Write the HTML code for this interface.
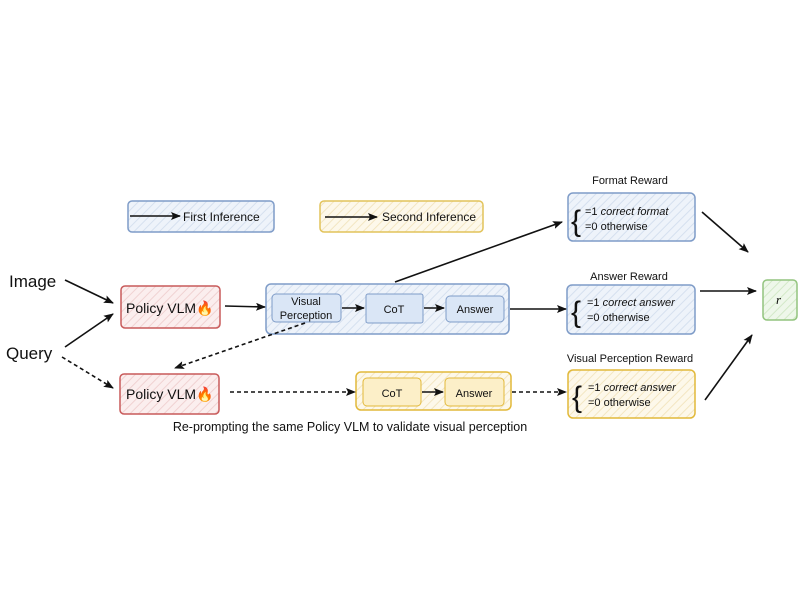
<!DOCTYPE html>
<html><head><meta charset="utf-8"><style>
html,body{margin:0;padding:0;background:#fff;}
svg{display:block;font-family:"Liberation Sans",sans-serif;}
</style></head><body>
<svg width="800" height="600" viewBox="0 0 800 600" xmlns="http://www.w3.org/2000/svg">
<defs>
<marker id="a" markerWidth="10" markerHeight="8" refX="9" refY="4" orient="auto" markerUnits="userSpaceOnUse"><path d="M0,0 L10,4 L0,8 L2,4 z" fill="#111"/></marker>
<pattern id="hb" width="6" height="6" patternUnits="userSpaceOnUse" patternTransform="rotate(45)"><rect width="6" height="6" fill="#eef3fa"/><line x1="0" y1="0" x2="0" y2="6" stroke="#d5e0ef" stroke-width="2"/></pattern>
<pattern id="hy" width="6" height="6" patternUnits="userSpaceOnUse" patternTransform="rotate(45)"><rect width="6" height="6" fill="#fdf8ea"/><line x1="0" y1="0" x2="0" y2="6" stroke="#f3e6c2" stroke-width="2"/></pattern>
<pattern id="hr" width="6" height="6" patternUnits="userSpaceOnUse" patternTransform="rotate(45)"><rect width="6" height="6" fill="#fbeeee"/><line x1="0" y1="0" x2="0" y2="6" stroke="#f0d2d2" stroke-width="2"/></pattern>
<pattern id="hg" width="6" height="6" patternUnits="userSpaceOnUse" patternTransform="rotate(45)"><rect width="6" height="6" fill="#eef7ea"/><line x1="0" y1="0" x2="0" y2="6" stroke="#d3e9c8" stroke-width="2"/></pattern>
</defs>
<g stroke-width="1.5">
<rect x="128" y="201" width="146" height="31" rx="4" fill="url(#hb)" stroke="#7f9cc8"/>
<rect x="320" y="201" width="163" height="31" rx="4" fill="url(#hy)" stroke="#e2c35a"/>
<rect x="121" y="286" width="99" height="42" rx="4" fill="url(#hr)" stroke="#c85a5a"/>
<rect x="120" y="374" width="99" height="40" rx="4" fill="url(#hr)" stroke="#c85a5a"/>
<rect x="266" y="284" width="243" height="50" rx="5" fill="url(#hb)" stroke="#7f9cc8"/>
<rect x="356" y="372" width="155" height="38" rx="5" fill="url(#hy)" stroke="#e2b93a"/>
<rect x="568" y="193" width="127" height="48" rx="5" fill="url(#hb)" stroke="#7f9cc8"/>
<rect x="567" y="285" width="128" height="49" rx="5" fill="url(#hb)" stroke="#7f9cc8"/>
<rect x="568" y="370" width="127" height="48" rx="5" fill="url(#hy)" stroke="#e2b93a"/>
<rect x="763" y="280" width="34" height="40" rx="4" fill="url(#hg)" stroke="#92c47e"/>
</g>
<g stroke-width="1">
<rect x="272" y="294" width="69" height="28" rx="4" fill="#dae6f6" stroke="#7f9cc8"/>
<rect x="366" y="294" width="57" height="29" rx="2" fill="#dae6f6" stroke="#7f9cc8"/>
<rect x="446" y="296" width="58" height="26" rx="4" fill="#dae6f6" stroke="#7f9cc8"/>
<rect x="363" y="378" width="58" height="28" rx="4" fill="#fcefc8" stroke="#e2b93a"/>
<rect x="445" y="378" width="59" height="28" rx="4" fill="#fcefc8" stroke="#e2b93a"/>
</g>
<g fill="none" stroke="#111" stroke-width="1.6" marker-end="url(#a)">
<line x1="130" y1="216" x2="180" y2="216"/>
<line x1="325" y1="217" x2="377" y2="217"/>
<line x1="65" y1="280" x2="113" y2="303"/>
<line x1="65" y1="347" x2="113" y2="314"/>
<line x1="225" y1="306" x2="265" y2="307"/>
<line x1="342" y1="308" x2="364" y2="308"/>
<line x1="424" y1="308" x2="444" y2="308"/>
<line x1="510" y1="309" x2="566" y2="309"/>
<line x1="395" y1="282" x2="562" y2="222"/>
<line x1="422" y1="392" x2="443" y2="392"/>
<line x1="702" y1="212" x2="748" y2="252"/>
<line x1="700" y1="291" x2="756" y2="291"/>
<line x1="705" y1="400" x2="752" y2="335"/>
<g stroke-dasharray="4,3">
<line x1="62" y1="357" x2="113" y2="388"/>
<line x1="305" y1="323" x2="175" y2="368"/>
<line x1="230" y1="392" x2="355" y2="392"/>
<line x1="512" y1="392" x2="566" y2="392"/>
</g>
</g>
<g fill="#111" font-size="12">
<text x="183" y="221">First Inference</text>
<text x="382" y="221">Second Inference</text>
<text x="9" y="287" font-size="17">Image</text>
<text x="6" y="359" font-size="17">Query</text>
<text x="126" y="313" font-size="14">Policy VLM🔥</text>
<text x="126" y="399" font-size="14">Policy VLM🔥</text>
<text x="306" y="305" text-anchor="middle" font-size="11">Visual</text>
<text x="306" y="319" text-anchor="middle" font-size="11">Perception</text>
<text x="394" y="313" text-anchor="middle" font-size="11">CoT</text>
<text x="475" y="313" text-anchor="middle" font-size="11">Answer</text>
<text x="392" y="397" text-anchor="middle" font-size="11">CoT</text>
<text x="474" y="397" text-anchor="middle" font-size="11">Answer</text>
<text x="630" y="184" text-anchor="middle" font-size="11">Format Reward</text>
<text x="629" y="280" text-anchor="middle" font-size="11">Answer Reward</text>
<text x="630" y="362" text-anchor="middle" font-size="11">Visual Perception Reward</text>
<text x="571" y="231" font-size="30" font-weight="200">{</text>
<text x="585" y="215" font-size="11">=1 <tspan font-style="italic">correct format</tspan></text>
<text x="585" y="230" font-size="11">=0 otherwise</text>
<text x="571" y="322" font-size="30" font-weight="200">{</text>
<text x="587" y="306" font-size="11">=1 <tspan font-style="italic">correct answer</tspan></text>
<text x="587" y="321" font-size="11">=0 otherwise</text>
<text x="572" y="407" font-size="30" font-weight="200">{</text>
<text x="588" y="391" font-size="11">=1 <tspan font-style="italic">correct answer</tspan></text>
<text x="588" y="406" font-size="11">=0 otherwise</text>
<text x="776" y="304" font-size="13" font-style="italic" font-family="Liberation Serif,serif">r</text>
<text x="350" y="431" text-anchor="middle" font-size="12.5">Re-prompting the same Policy VLM to validate visual perception</text>
</g>
</svg>
</body></html>
